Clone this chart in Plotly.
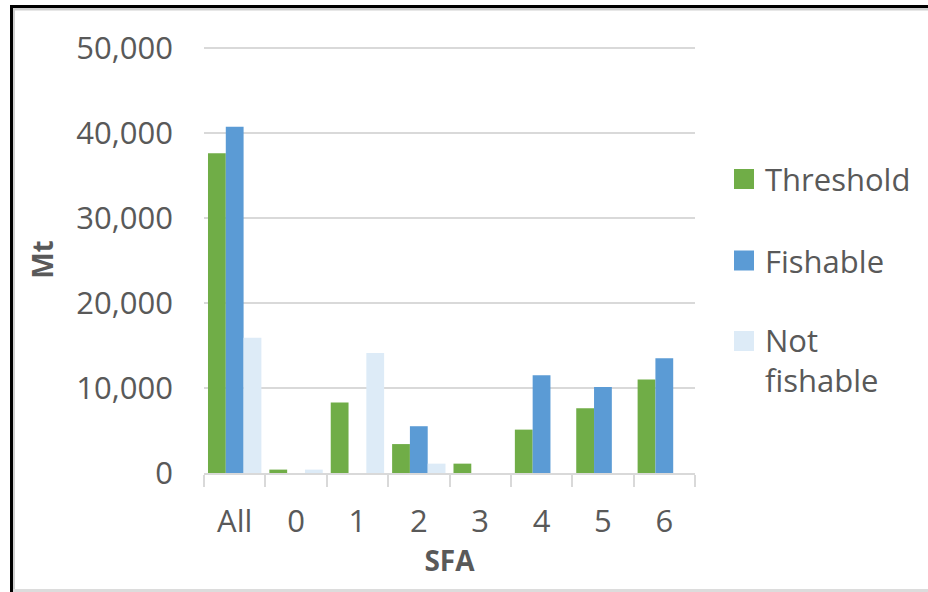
import plotly.graph_objects as go

# SFA biomass breakdown (Mt)
categories = ["All", "0", "1", "2", "3", "4", "5", "6"]
threshold = [37600, 400, 8300, 3400, 1100, 5100, 7600, 11000]
fishable = [40700, 0, 0, 5500, 0, 11500, 10100, 13500]
not_fishable = [15900, 400, 14100, 1100, 0, 0, 0, 0]

series_names = ["Threshold", "Fishable", "Not<br>fishable"]
series_colors = ["#70AD47", "#5B9BD5", "#DDEBF7"]
y_ticks = [0, 10000, 20000, 30000, 40000, 50000]

W, H = 928, 592
L, R, T, B = 204, 233, 46, 119
PW, PH = W - L - R, H - T - B
FONT = "Open Sans"
TEXT = "#595959"
GRID = "#D9D9D9"


def px(x):
    return (x - L) / PW


def py(y):
    return (H - B - y) / PH


fig = go.Figure()
for name, vals, col in zip(series_names, [threshold, fishable, not_fishable], series_colors):
    fig.add_trace(go.Bar(x=categories, y=vals, name=name, marker_color=col,
                         marker_line_width=0, showlegend=False))

fig.update_layout(
    width=W, height=H,
    margin=dict(l=L, r=R, t=T, b=B, pad=0),
    paper_bgcolor="white", plot_bgcolor="white",
    barmode="group", bargap=0.13, bargroupgap=0,
    font=dict(family=FONT, color=TEXT, size=31),
    xaxis=dict(
        type="category", showgrid=False, showline=True, linecolor=GRID, linewidth=2,
        ticks="outside", tickson="boundaries", ticklen=12, tickwidth=2, tickcolor=GRID,
        ticklabelstandoff=20,
        title=dict(text="<b>SFA</b>", font=dict(size=28, color=TEXT), standoff=11),
    ),
    yaxis=dict(
        range=[0, 50200], tickvals=y_ticks, tickformat=",d",
        showgrid=True, gridcolor=GRID, gridwidth=2, zeroline=False, showline=False,
        ticks="", ticklabelstandoff=30,
        title=dict(text="<b>Mt</b>", font=dict(size=28, color=TEXT), standoff=14),
    ),
)

# Legend drawn as swatches + labels to the right of the plot
legend_y = [179, 260.5, 341]
for i, (name, col) in enumerate(zip(series_names, series_colors)):
    yc = legend_y[i]
    fig.add_shape(type="rect", xref="paper", yref="paper",
                  x0=px(734), x1=px(754), y0=py(yc + 10), y1=py(yc - 10),
                  fillcolor=col, line_width=0)
    if "<br>" in name:
        fig.add_annotation(xref="paper", yref="paper", x=px(763), y=py(yc - 24),
                           text=name, showarrow=False, xanchor="left", yanchor="top",
                           align="left", font=dict(size=31, color=TEXT, family=FONT))
    else:
        fig.add_annotation(xref="paper", yref="paper", x=px(763), y=py(yc),
                           text=name, showarrow=False, xanchor="left", yanchor="middle",
                           align="left", font=dict(size=31, color=TEXT, family=FONT))

# Window frame around the chart
fig.add_shape(type="rect", xref="paper", yref="paper", x0=px(10), x1=px(W + 5),
              y0=py(8), y1=py(5), fillcolor="black", line_width=0, layer="above")
fig.add_shape(type="rect", xref="paper", yref="paper", x0=px(13), x1=px(W + 5),
              y0=py(10.5), y1=py(8), fillcolor="#CFCFCF", line_width=0, layer="above")
fig.add_shape(type="rect", xref="paper", yref="paper", x0=px(10), x1=px(13),
              y0=py(H + 5), y1=py(5), fillcolor="black", line_width=0, layer="above")
fig.add_shape(type="rect", xref="paper", yref="paper", x0=px(13), x1=px(15),
              y0=py(H + 5), y1=py(8), fillcolor="#CFCFCF", line_width=0, layer="above")
fig.add_shape(type="rect", xref="paper", yref="paper", x0=px(13), x1=px(W + 5),
              y0=py(H + 5), y1=py(589), fillcolor="#DCDCDC", line_width=0, layer="above")

fig.write_html("out.html")
